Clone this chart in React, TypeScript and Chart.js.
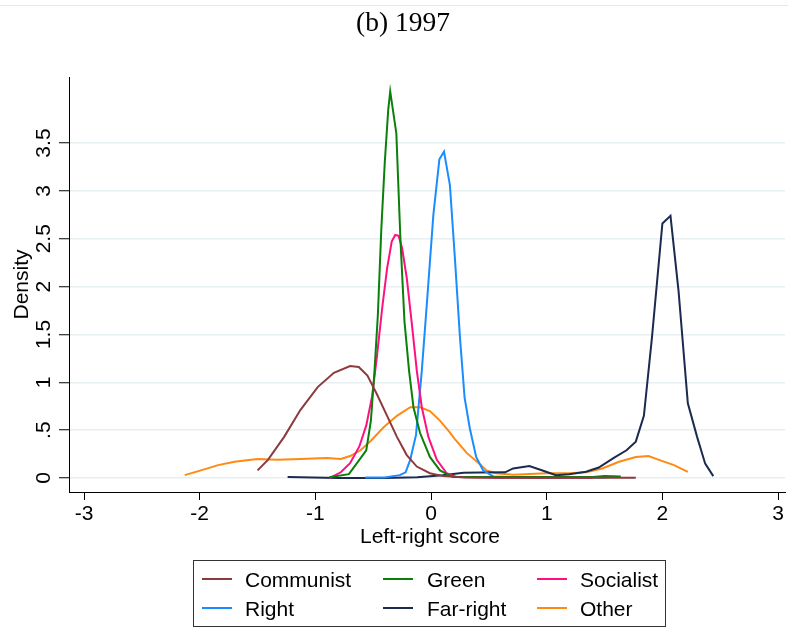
import React, { useEffect, useRef } from "react";
import { Chart, registerables } from "chart.js";

Chart.register(...registerables);

const TITLE = "(b) 1997";
const X_TITLE = "Left-right score";
const Y_TITLE = "Density";

const xTicks = [-3, -2, -1, 0, 1, 2, 3];
const xTickLabels = ["-3", "-2", "-1", "0", "1", "2", "3"];
const yTicks = [0, 0.5, 1, 1.5, 2, 2.5, 3, 3.5];
const yTickLabels = ["0", ".5", "1", "1.5", "2", "2.5", "3", "3.5"];

const seriesNames = ["Communist", "Green", "Socialist", "Right", "Far-right", "Other"];
const seriesColors = ["#8c3b3d", "#0a800a", "#ff1080", "#1a8cff", "#1c2a50", "#ff8a12"];

const communistX = [-1.5, -1.41, -1.27, -1.13, -0.98, -0.84, -0.7, -0.625, -0.55, -0.47, -0.38, -0.295, -0.21, -0.123, -0.01, 0.106, 0.3, 0.6, 1.0, 1.4, 1.77];
const communistY = [0.08, 0.19, 0.43, 0.71, 0.95, 1.1, 1.17, 1.16, 1.07, 0.88, 0.65, 0.43, 0.24, 0.12, 0.05, 0.02, 0.005, 0.003, 0.003, 0.003, 0.003];

const greenX = [-0.88, -0.71, -0.56, -0.52, -0.49, -0.46, -0.43, -0.4, -0.37, -0.353, -0.3, -0.265, -0.23, -0.19, -0.152, -0.095, -0.01, 0.077, 0.19, 0.5, 1.0, 1.4, 1.5, 1.64];
const greenY = [0.007, 0.04, 0.29, 0.6, 1.1, 1.7, 2.6, 3.3, 3.85, 4.04, 3.6, 2.5, 1.64, 1.12, 0.74, 0.47, 0.22, 0.08, 0.01, 0.01, 0.01, 0.01, 0.02, 0.015];

const socialistX = [-0.88, -0.78, -0.7, -0.62, -0.56, -0.51, -0.47, -0.42, -0.38, -0.34, -0.31, -0.28, -0.25, -0.21, -0.166, -0.123, -0.08, -0.023, 0.05, 0.135, 0.22, 0.6, 1.0, 1.4];
const socialistY = [0.0, 0.06, 0.155, 0.33, 0.55, 0.85, 1.25, 1.8, 2.19, 2.47, 2.54, 2.53, 2.4, 2.09, 1.61, 1.12, 0.74, 0.43, 0.19, 0.05, 0.01, 0.003, 0.003, 0.003];

const rightX = [-0.57, -0.4, -0.27, -0.22, -0.18, -0.13, -0.08, -0.037, 0.02, 0.072, 0.112, 0.163, 0.206, 0.25, 0.29, 0.335, 0.39, 0.45, 0.54, 0.8, 1.2, 1.51];
const rightY = [0.005, 0.005, 0.03, 0.06, 0.19, 0.45, 1.12, 1.81, 2.75, 3.33, 3.41, 3.06, 2.3, 1.47, 0.84, 0.52, 0.22, 0.08, 0.015, 0.005, 0.005, 0.005];

const farRightX = [-1.24, -0.8, -0.4, -0.12, 0.1, 0.28, 0.42, 0.64, 0.71, 0.85, 0.97, 1.08, 1.195, 1.34, 1.45, 1.58, 1.69, 1.77, 1.84, 1.91, 2.0, 2.07, 2.14, 2.22, 2.3, 2.37, 2.44];
const farRightY = [0.01, 0.0, 0.0, 0.007, 0.03, 0.055, 0.058, 0.06, 0.1, 0.125, 0.076, 0.03, 0.04, 0.065, 0.11, 0.21, 0.29, 0.38, 0.65, 1.47, 2.66, 2.74, 1.95, 0.78, 0.43, 0.15, 0.02];

const otherX = [-2.13, -1.99, -1.84, -1.7, -1.5, -1.33, -1.13, -0.9, -0.78, -0.7, -0.61, -0.52, -0.41, -0.295, -0.18, -0.095, -0.01, 0.077, 0.16, 0.21, 0.31, 0.43, 0.48, 0.56, 0.71, 0.995, 1.195, 1.34, 1.48, 1.625, 1.77, 1.88, 1.97, 2.1, 2.22];
const otherY = [0.03, 0.08, 0.135, 0.17, 0.2, 0.19, 0.2, 0.21, 0.2, 0.23, 0.29, 0.39, 0.53, 0.65, 0.74, 0.74, 0.7, 0.6, 0.48, 0.4, 0.26, 0.135, 0.08, 0.05, 0.035, 0.05, 0.05, 0.06, 0.1, 0.17, 0.22, 0.23, 0.19, 0.135, 0.065];

const seriesXs = [communistX, greenX, socialistX, rightX, farRightX, otherX];
const seriesYs = [communistY, greenY, socialistY, rightY, farRightY, otherY];

const SANS = '"Liberation Sans", Arial, sans-serif';
const SERIF = '"Liberation Serif", "Times New Roman", serif';

const decorPlugin = {
  id: "decor",
  afterDraw(chart: any) {
    const ctx = chart.ctx as CanvasRenderingContext2D;
    const xs = chart.scales.x;
    const ys = chart.scales.y;
    ctx.save();
    // top frame line
    ctx.strokeStyle = "#e4eaec";
    ctx.lineWidth = 1;
    ctx.beginPath();
    ctx.moveTo(0, 5.5);
    ctx.lineTo(788, 5.5);
    ctx.stroke();

    // title
    ctx.fillStyle = "#000";
    ctx.font = `27.5px ${SERIF}`;
    ctx.textAlign = "center";
    ctx.textBaseline = "alphabetic";
    ctx.fillText(TITLE, 403, 31);

    // x tick labels
    ctx.font = `21px ${SANS}`;
    xTicks.forEach((v, i) => {
      ctx.fillText(xTickLabels[i], xs.getPixelForValue(v), 519.5);
    });
    // x title
    ctx.fillText(X_TITLE, 430, 543);

    // y tick labels (rotated)
    yTicks.forEach((v, i) => {
      ctx.save();
      ctx.translate(50, ys.getPixelForValue(v));
      ctx.rotate(-Math.PI / 2);
      ctx.textAlign = "center";
      ctx.fillText(yTickLabels[i], 0, 0);
      ctx.restore();
    });
    // y title
    ctx.save();
    ctx.translate(28, (chart.chartArea.top + chart.chartArea.bottom) / 2);
    ctx.rotate(-Math.PI / 2);
    ctx.textAlign = "center";
    ctx.fillText(Y_TITLE, 0, 0);
    ctx.restore();

    // legend
    ctx.strokeStyle = "#333";
    ctx.lineWidth = 1;
    ctx.strokeRect(193.5, 560.5, 472, 66);
    const colSample = [202, 383, 537];
    const colText = [245, 427, 580];
    const rowY = [579, 608];
    ctx.textAlign = "left";
    seriesNames.forEach((name, i) => {
      const c = i % 3;
      const r = Math.floor(i / 3);
      ctx.strokeStyle = seriesColors[i];
      ctx.lineWidth = 2;
      ctx.beginPath();
      ctx.moveTo(colSample[c], rowY[r]);
      ctx.lineTo(colSample[c] + 30, rowY[r]);
      ctx.stroke();
      ctx.fillStyle = "#000";
      ctx.fillText(name, colText[c], rowY[r] + 7.5);
    });
    ctx.restore();
  },
};

export default function App() {
  const ref = useRef<HTMLCanvasElement>(null);
  useEffect(() => {
    if (!ref.current) return;
    const datasets = seriesNames.map((name, i) => ({
      label: name,
      data: seriesXs[i].map((x, j) => ({ x, y: seriesYs[i][j] })),
      borderColor: seriesColors[i],
      backgroundColor: seriesColors[i],
      borderWidth: 2,
      pointRadius: 0,
      tension: 0,
      fill: false,
    }));
    const chart = new Chart(ref.current, {
      type: "line",
      data: { datasets },
      options: {
        animation: false,
        responsive: false,
        devicePixelRatio: 1,
        layout: { padding: { top: 77, left: 0, right: 3, bottom: 0 } },
        plugins: { legend: { display: false }, title: { display: false }, tooltip: { enabled: false } },
        scales: {
          x: {
            type: "linear",
            min: -3.13,
            max: 3.06,
            afterBuildTicks: (s: any) => {
              s.ticks = xTicks.map((v) => ({ value: v }));
            },
            afterFit: (s: any) => {
              s.height = 135;
            },
            ticks: { display: false },
            grid: { drawOnChartArea: false, drawTicks: true, tickLength: 8, tickColor: "#000", tickWidth: 1 },
            border: { display: true, color: "#000", width: 1 },
          },
          y: {
            type: "linear",
            min: -0.146,
            max: 4.19,
            afterBuildTicks: (s: any) => {
              s.ticks = yTicks.map((v) => ({ value: v }));
            },
            afterFit: (s: any) => {
              s.width = 69;
            },
            ticks: { display: false },
            grid: { color: "#e8eff2", lineWidth: 1.5, drawTicks: true, tickLength: 10, tickColor: "#000", tickWidth: 1 },
            border: { display: true, color: "#000", width: 1 },
          },
        },
      },
      plugins: [decorPlugin],
    } as any);
    return () => chart.destroy();
  }, []);
  return (
    <div style={{ position: "absolute", left: 0, top: 0, width: 788, height: 627, background: "#fff" }}>
      <canvas ref={ref} width={788} height={627} style={{ width: 788, height: 627, display: "block" }} />
    </div>
  );
}
